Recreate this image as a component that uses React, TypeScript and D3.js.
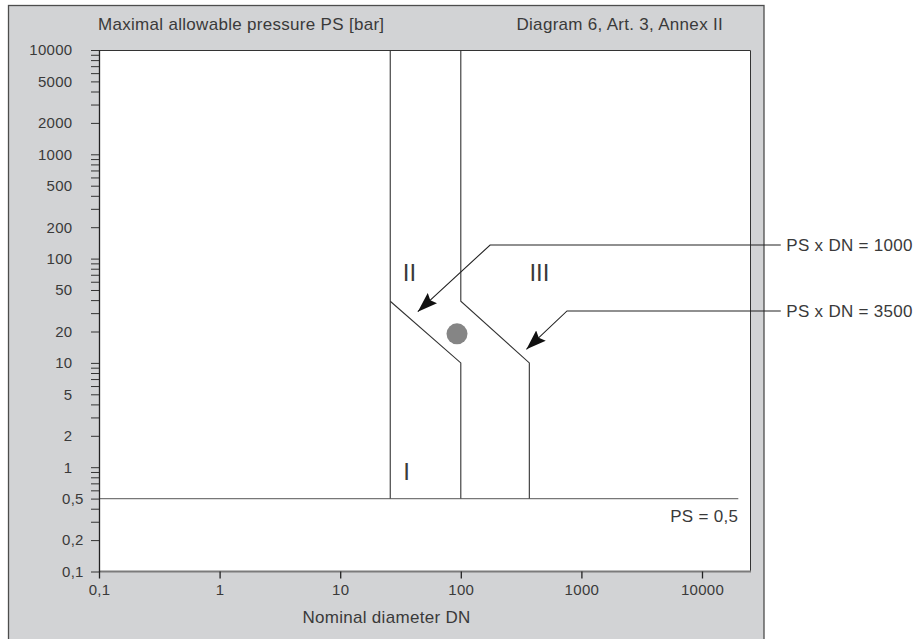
import React, { useEffect, useRef } from "react";
import * as d3 from "d3";

// axis ticks
const dnTicks = [0.1, 1, 10, 100, 1000, 10000];
const psTicks = [0.1, 0.2, 0.5, 1, 2, 5, 10, 20, 50, 100, 200, 500, 1000, 2000, 5000, 10000];

// category boundaries as [DN, PS]
const border1 = [[26, 10000], [26, 0.5]];
const border1Diag = [[26, 39], [100, 10], [100, 0.5]];
const border2 = [[100, 10000], [100, 39], [370, 10], [370, 0.5]];
const psLimit = [[0.1, 0.5], [20000, 0.5]];
const psLimitLabel = "PS = 0,5";
const psLimitLabelPos = [20000, 0.3];

const categories = ["I", "II", "III"];
const categoryPos = [[35.6, 0.92], [37.5, 74], [449, 74]];

const samplePoint = [93, 19];

// leader notes
const notes = ["PS x DN = 1000", "PS x DN = 3500"];
const noteTips = [[44, 31], [350, 13.5]];
const noteElbows = [[175, 135], [760, 31.5]];
const noteEndDN = 45000;
const noteTextDN = 50000;

const W = 920;
const H = 639;
const FONT = "'Liberation Sans', Arial, Helvetica, sans-serif";
const TEXT = "#3a3a3a";

const fmt = (d: number) => String(d).replace(".", ",");

export default function App() {
  const ref = useRef<SVGSVGElement>(null);

  useEffect(() => {
    const svg = d3.select(ref.current);
    svg.selectAll("*").remove();

    const x = d3.scaleLog().domain([0.1, 10000]).range([99, 702]);
    const y = d3.scaleLog().domain([0.1, 10000]).range([571.5, 50]);
    const plotRight = 751;

    // grey panel and white plot area
    svg.append("rect")
      .attr("x", 8.5).attr("y", 5.5)
      .attr("width", 755.5).attr("height", 700)
      .attr("fill", "#d2d3d5").attr("stroke", "#4d4d4d").attr("stroke-width", 1.3);
    svg.append("rect")
      .attr("x", x(0.1)).attr("y", y(10000))
      .attr("width", plotRight - x(0.1)).attr("height", y(0.1) - y(10000))
      .attr("fill", "#fff");
    svg.append("path")
      .attr("d", `M${x(0.1)},${y(10000) + 0.5}H${plotRight - 0.5}V${y(0.1)}`)
      .attr("fill", "none").attr("stroke", "#333");

    const defs = svg.append("defs");
    defs.append("marker")
      .attr("id", "arrow")
      .attr("markerUnits", "userSpaceOnUse")
      .attr("markerWidth", 21).attr("markerHeight", 14)
      .attr("refX", 20).attr("refY", 7)
      .attr("orient", "auto")
      .append("path")
      .attr("d", "M0,0L20,7L0,14L3,7Z")
      .attr("fill", "#111");

    const line = d3.line<number[]>().x(d => x(d[0])).y(d => y(d[1]));

    // PS = 0,5 limit
    svg.append("path").attr("d", line(psLimit))
      .attr("fill", "none").attr("stroke", "#777").attr("stroke-width", 1.4);

    // boundaries
    [border1, border1Diag, border2].forEach(b => {
      svg.append("path").attr("d", line(b))
        .attr("fill", "none").attr("stroke", "#333").attr("stroke-width", 1.1);
    });

    // x axis line
    svg.append("line")
      .attr("x1", x(0.1)).attr("x2", plotRight)
      .attr("y1", y(0.1)).attr("y2", y(0.1))
      .attr("stroke", "#7b7b7b").attr("stroke-width", 2);

    const xAxis = svg.append("g")
      .attr("transform", `translate(0,${y(0.1)})`)
      .call(d3.axisBottom(x).tickValues(dnTicks).tickSize(7).tickSizeOuter(0).tickFormat(d => fmt(+d)));
    xAxis.select(".domain").remove();
    xAxis.attr("font-size", 15).attr("font-family", FONT);
    xAxis.selectAll("line").attr("stroke", "#222").attr("stroke-width", 1.3);
    xAxis.selectAll("text").attr("y", 13).attr("fill", TEXT).attr("letter-spacing", 0.3);

    // y axis
    const labelOf = (d: number) => {
      const t = psTicks.find(p => Math.abs(p - d) / p < 1e-6);
      return t === undefined ? "" : fmt(t);
    };
    const yAxis = svg.append("g")
      .attr("transform", `translate(${x(0.1)},0)`)
      .call(d3.axisLeft(y).tickValues(y.ticks()).tickSize(8).tickSizeOuter(0).tickFormat(d => labelOf(+d)));
    yAxis.attr("font-size", 15).attr("font-family", FONT);
    yAxis.select(".domain").attr("stroke", "#222").attr("stroke-width", 1.3);
    yAxis.selectAll("line").attr("stroke", "#333");
    yAxis.selectAll<SVGTextElement, number>("text")
      .attr("fill", TEXT).attr("letter-spacing", 0.3)
      .attr("text-anchor", function () { return (this.textContent || "").includes(",") ? "start" : "end"; })
      .attr("x", function () { return (this.textContent || "").includes(",") ? -37 : -26.5; });

    // sample point
    svg.append("circle")
      .attr("cx", x(samplePoint[0])).attr("cy", y(samplePoint[1]))
      .attr("r", 10.5).attr("fill", "#858585");

    // category labels
    svg.selectAll(".cat").data(categories).enter().append("text")
      .attr("x", (d, i) => x(categoryPos[i][0]))
      .attr("y", (d, i) => y(categoryPos[i][1]))
      .attr("dy", "0.36em")
      .attr("text-anchor", "middle")
      .attr("font-family", FONT).attr("font-size", 24).attr("fill", TEXT)
      .text(d => d);

    // limit label
    svg.append("text")
      .attr("x", x(psLimitLabelPos[0])).attr("y", y(psLimitLabelPos[1]))
      .attr("text-anchor", "end")
      .attr("font-family", FONT).attr("font-size", 17).attr("letter-spacing", 0.3).attr("fill", TEXT)
      .text(psLimitLabel);

    // leader notes
    notes.forEach((n, i) => {
      const pts = [[noteEndDN, noteElbows[i][1]], noteElbows[i], noteTips[i]];
      svg.append("path").attr("d", line(pts))
        .attr("fill", "none").attr("stroke", "#222").attr("stroke-width", 1.1)
        .attr("marker-end", "url(#arrow)");
      svg.append("text")
        .attr("x", x(noteTextDN)).attr("y", y(noteElbows[i][1]))
        .attr("dy", "0.36em")
        .attr("font-family", FONT).attr("font-size", 17).attr("letter-spacing", 0.3).attr("fill", TEXT)
        .text(n);
    });

    // titles
    const title = (t: string, tx: number, ty: number, anchor: string) =>
      svg.append("text").attr("x", tx).attr("y", ty).attr("text-anchor", anchor)
        .attr("font-family", FONT).attr("font-size", 17).attr("letter-spacing", 0.3).attr("fill", TEXT)
        .text(t);
    title("Maximal allowable pressure PS [bar]", 98, 30, "start");
    title("Diagram 6, Art. 3, Annex II", 723, 30, "end");
    title("Nominal diameter DN", 386.5, 623, "middle");
  }, []);

  return (
    <div style={{ position: "absolute", left: 0, top: 0 }}>
      <svg ref={ref} width={W} height={H} style={{ display: "block", background: "#fff" }} />
    </div>
  );
}
